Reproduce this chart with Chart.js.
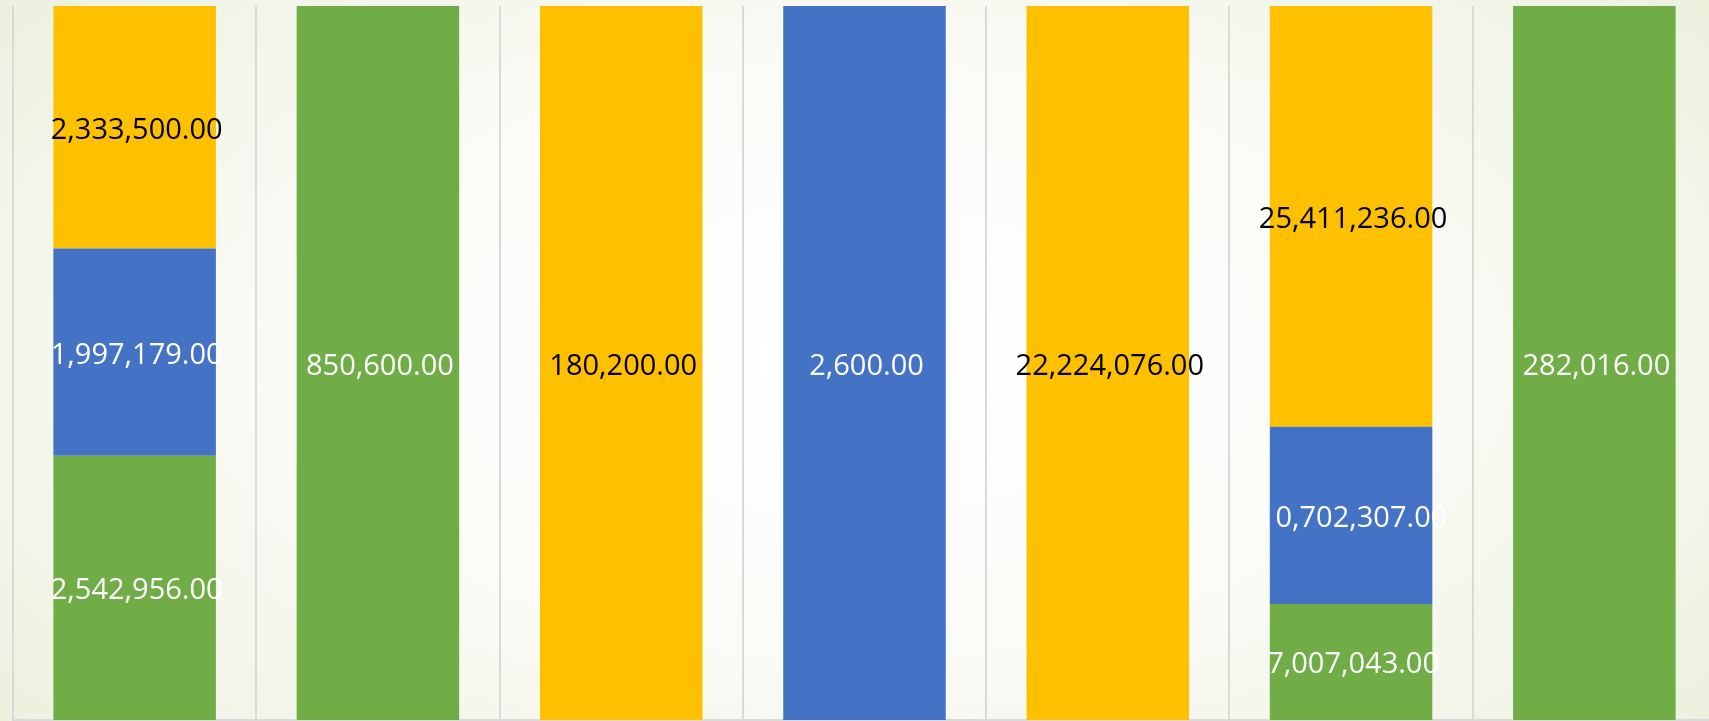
<!DOCTYPE html>
<html>
<head>
<meta charset="utf-8">
<script src="https://cdn.jsdelivr.net/npm/chart.js@4.4.0/dist/chart.umd.min.js"></script>
<style>
html,body{margin:0;padding:0;width:1709px;height:721px;overflow:hidden;}
body{background:radial-gradient(ellipse 75% 95% at 50% 50%, #ffffff 0%, #fbfcf8 40%, #eef2e1 80%, #e6ebd2 100%);}
#wrap{position:absolute;left:0;top:0;width:1720px;height:721px;}
</style>
</head>
<body>
<div id="wrap"><canvas id="c" width="1720" height="721"></canvas></div>
<script>
const categories = ["A","B","C","D","E","F","G"];
const greenValues  = [2542956, 850600, 0, 0, 0, 7007043, 282016];
const blueValues   = [1997179, 0, 0, 2600, 0, 10702307, 0];
const yellowValues = [2333500, 0, 180200, 0, 22224076, 25411236, 0];

const seriesRaw = [greenValues, blueValues, yellowValues];
const totals = categories.map((_, i) => seriesRaw.reduce((s, a) => s + a[i], 0));
const pct = arr => arr.map((v, i) => totals[i] ? v / totals[i] * 100 : 0);

const fmt = v => v.toLocaleString('en-US', {minimumFractionDigits: 2, maximumFractionDigits: 2});

const labelPlugin = {
  id: 'segLabels',
  afterDatasetsDraw(chart) {
    const ctx = chart.ctx;
    ctx.save();
    ctx.font = '29px "Open Sans"';
    ctx.textAlign = 'center';
    ctx.textBaseline = 'alphabetic';
    chart.data.datasets.forEach((ds, di) => {
      const meta = chart.getDatasetMeta(di);
      meta.data.forEach((bar, i) => {
        const raw = ds.raw[i];
        if (!raw) return;
        const yc = (bar.y + bar.base) / 2;
        ctx.fillStyle = ds.labelColor;
        ctx.fillText(fmt(raw), bar.x + 2, yc + 11.5);
      });
    });
    ctx.restore();
  }
};

new Chart(document.getElementById('c'), {
  type: 'bar',
  data: {
    labels: categories,
    datasets: [
      {label: 'Green', data: pct(greenValues), raw: greenValues, backgroundColor: '#70AD47', labelColor: '#ffffff'},
      {label: 'Blue', data: pct(blueValues), raw: blueValues, backgroundColor: '#4472C4', labelColor: '#ffffff'},
      {label: 'Yellow', data: pct(yellowValues), raw: yellowValues, backgroundColor: '#FFC000', labelColor: '#000000'}
    ]
  },
  options: {
    responsive: false,
    animation: false,
    layout: {padding: {left: 13, top: 6, right: 4, bottom: 1}},
    datasets: {bar: {categoryPercentage: 1, barPercentage: 0.668}},
    plugins: {legend: {display: false}, tooltip: {enabled: false}},
    scales: {
      x: {
        stacked: true,
        offset: true,
        ticks: {display: false},
        grid: {display: true, offset: true, color: '#d9d9d9', lineWidth: 2, drawTicks: false, tickLength: 0},
        border: {display: true, color: '#d9d9d9', width: 2}
      },
      y: {
        stacked: true,
        display: false,
        min: 0,
        max: 100
      }
    }
  },
  plugins: [labelPlugin]
});
</script>
</body>
</html>
